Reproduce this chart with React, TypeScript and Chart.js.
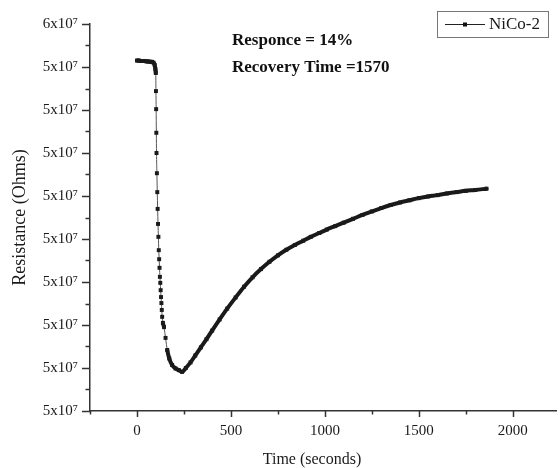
import React, { useEffect, useRef } from "react";
import { Chart, registerables } from "chart.js";

Chart.register(...registerables);

const seriesLabel = "NiCo-2";
const xAxisTitle = "Time (seconds)";
const yAxisTitle = "Resistance (Ohms)";
const annotationLines = ["Responce = 14%", "Recovery Time =1570"];

// time in seconds
const timeSeconds = [
  0, 10, 20, 30, 40, 50, 60, 70, 80, 88, 94, 98,
  100, 101, 102, 103, 104, 106, 108, 110, 112, 114, 116, 118, 120, 122, 124, 126, 128, 130, 132, 134,
  138, 144, 152, 161, 172, 187, 205, 223, 240,
  260, 285, 310, 340, 370, 400, 440, 480, 525, 570, 615, 660, 705, 750, 795, 840, 885, 925, 970, 1010,
  1055, 1100, 1150, 1200, 1250, 1300, 1350, 1400, 1450, 1500, 1550, 1600, 1650, 1700, 1750, 1800, 1860,
];

// resistance in units of 10^7 Ohms
const resistanceE7 = [
  5.415, 5.415, 5.414, 5.414, 5.414, 5.413, 5.413, 5.412, 5.412, 5.41, 5.405, 5.395,
  5.386, 5.344, 5.302, 5.247, 5.2, 5.153, 5.109, 5.07, 5.035, 5.005, 4.974, 4.953, 4.933, 4.912, 4.898, 4.881, 4.865, 4.851, 4.835, 4.819,
  4.805, 4.795, 4.77, 4.742, 4.722, 4.707, 4.699, 4.695, 4.691,
  4.7, 4.713, 4.729, 4.748, 4.767, 4.787, 4.813, 4.838, 4.864, 4.889, 4.911, 4.93, 4.947, 4.962, 4.975, 4.986, 4.996, 5.005, 5.014, 5.022,
  5.03, 5.038, 5.047, 5.056, 5.064, 5.072, 5.079, 5.085, 5.09, 5.095, 5.099, 5.102, 5.106, 5.109, 5.112, 5.114, 5.117,
];

const xMin = -250;
const xMax = 2230;
const xTickValues = [-250, 0, 250, 500, 750, 1000, 1250, 1500, 1750, 2000];
const xTickLabels = ["", "0", "", "500", "", "1000", "", "1500", "", "2000"];

const yMin = 4.6;
const yMax = 5.5;
const yTickValues = [4.6, 4.7, 4.8, 4.9, 5.0, 5.1, 5.2, 5.3, 5.4, 5.5];
const yTickLabels = ["5x10⁷", "5x10⁷", "5x10⁷", "5x10⁷", "5x10⁷", "5x10⁷", "5x10⁷", "5x10⁷", "5x10⁷", "6x10⁷"];
const yMinorValues = [4.65, 4.75, 4.85, 4.95, 5.05, 5.15, 5.25, 5.35, 5.45];

const SERIF = "'Times New Roman', 'Liberation Serif', 'DejaVu Serif', serif";
const INK = "#1a1a1a";
const AXIS = "#333";

const overlayPlugin = {
  id: "overlay",
  afterDraw(chart: any) {
    const { ctx } = chart;
    const x = chart.scales.x;
    const y = chart.scales.y;
    const area = chart.chartArea;
    ctx.save();
    ctx.strokeStyle = AXIS;
    ctx.lineWidth = 1.5;
    const seg = (x1: number, y1: number, x2: number, y2: number) => {
      ctx.beginPath();
      ctx.moveTo(x1, y1);
      ctx.lineTo(x2, y2);
      ctx.stroke();
    };
    const left = area.left;
    const bottom = area.bottom;
    yTickValues.forEach((v) => {
      const py = Math.round(y.getPixelForValue(v)) + 0.5;
      seg(left - 8, py, left, py);
    });
    yMinorValues.forEach((v) => {
      const py = Math.round(y.getPixelForValue(v)) + 0.5;
      seg(left - 4.5, py, left, py);
    });
    xTickValues.forEach((v, i) => {
      const px = Math.round(x.getPixelForValue(v)) + 0.5;
      const major = xTickLabels[i] !== "";
      seg(px, bottom, px, bottom + (major ? 6 : 3.5));
    });

    // x axis title
    ctx.fillStyle = INK;
    ctx.font = `16px ${SERIF}`;
    ctx.textAlign = "center";
    ctx.textBaseline = "middle";
    ctx.fillText(xAxisTitle, 312, 460);

    // annotations
    ctx.font = `bold 17px ${SERIF}`;
    ctx.textAlign = "left";
    ctx.fillStyle = "#111";
    ctx.fillText(annotationLines[0], 232, 41);
    ctx.fillText(annotationLines[1], 232, 68);

    // legend
    ctx.strokeStyle = "#777";
    ctx.lineWidth = 1;
    ctx.strokeRect(437.5, 11.5, 111, 26);
    ctx.strokeStyle = "#222";
    seg(445, 24.5, 485, 24.5);
    ctx.fillStyle = "#111";
    ctx.fillRect(463, 22.5, 4, 4);
    ctx.font = `17px ${SERIF}`;
    ctx.fillStyle = INK;
    ctx.fillText(chart.data.datasets[0].label, 489, 25);
    ctx.restore();
  },
};

export default function App() {
  const canvasRef = useRef<HTMLCanvasElement | null>(null);

  useEffect(() => {
    const canvas = canvasRef.current;
    if (!canvas) return;
    const points = timeSeconds.map((t, i) => ({ x: t, y: resistanceE7[i] }));
    const chart = new Chart(canvas, {
      type: "line",
      data: {
        datasets: [
          {
            label: seriesLabel,
            data: points,
            borderColor: INK,
            backgroundColor: INK,
            pointBackgroundColor: INK,
            pointBorderWidth: 0,
            pointStyle: "rect",
            pointRadius: 2.8,
            borderWidth: 4,
            borderCapStyle: "round",
            borderJoinStyle: "round",
            cubicInterpolationMode: "monotone",
            segment: {
              borderWidth: (c: any) =>
                Math.abs(c.p1.x - c.p0.x) < 2 && Math.abs(c.p1.y - c.p0.y) > 6 ? 1 : 4,
              borderColor: (c: any) =>
                Math.abs(c.p1.x - c.p0.x) < 2 && Math.abs(c.p1.y - c.p0.y) > 6 ? "#555" : INK,
            },
          } as any,
        ],
      },
      options: {
        animation: false,
        responsive: false,
        events: [],
        layout: { padding: { top: 24, right: 0, bottom: 0, left: 0 } },
        plugins: {
          legend: { display: false },
          tooltip: { enabled: false },
        },
        scales: {
          x: {
            type: "linear",
            min: xMin,
            max: xMax,
            grid: { display: true, color: "rgba(0,0,0,0)", drawTicks: false },
            border: { display: true, color: AXIS, width: 1.5 },
            afterBuildTicks: (s: any) => {
              s.ticks = xTickValues.map((v) => ({ value: v }));
            },
            afterFit: (s: any) => {
              s.height = 57;
            },
            ticks: {
              autoSkip: false,
              maxRotation: 0,
              padding: 11,
              color: INK,
              font: { family: SERIF, size: 15 },
              callback: (v: any) => {
                const i = xTickValues.indexOf(Number(v));
                return i >= 0 ? xTickLabels[i] : "";
              },
            },
          },
          y: {
            type: "linear",
            min: yMin,
            max: yMax,
            grid: { display: true, color: "rgba(0,0,0,0)", drawTicks: false },
            border: { display: true, color: AXIS, width: 1.5 },
            afterBuildTicks: (s: any) => {
              s.ticks = yTickValues.map((v) => ({ value: v }));
            },
            afterFit: (s: any) => {
              s.width = 90;
            },
            ticks: {
              autoSkip: false,
              padding: 12,
              color: INK,
              font: { family: SERIF, size: 15 },
              callback: (v: any) => {
                const i = yTickValues.findIndex((t) => Math.abs(t - Number(v)) < 1e-6);
                return i >= 0 ? yTickLabels[i] : "";
              },
            },
            title: {
              display: true,
              text: yAxisTitle,
              color: INK,
              font: { family: SERIF, size: 18 },
              padding: { top: 9, bottom: 0 },
            },
          },
        },
      },
      plugins: [overlayPlugin],
    } as any);
    return () => chart.destroy();
  }, []);

  return (
    <div style={{ position: "absolute", left: 0, top: 0, width: 560, height: 468, background: "#fff" }}>
      <canvas ref={canvasRef} width={560} height={468} style={{ display: "block" }} />
    </div>
  );
}
